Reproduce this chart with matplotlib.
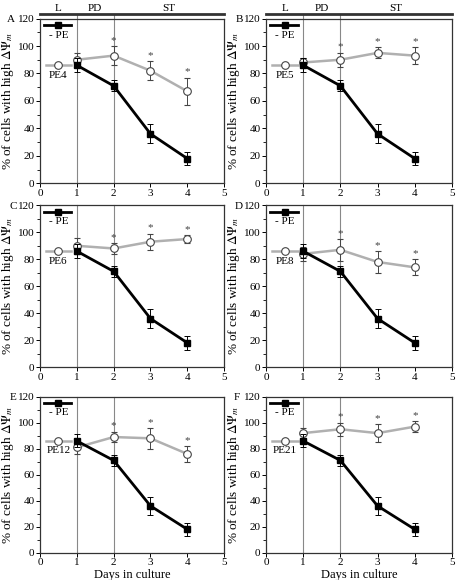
import numpy as np
import matplotlib
matplotlib.use('Agg')
import matplotlib.pyplot as plt

plt.rcParams['font.family'] = ['Liberation Serif', 'DejaVu Serif']
plt.rcParams['mathtext.fontset'] = 'stix'

days = [1, 2, 3, 4]
ctrl_mean = [86, 71, 36, 18]
ctrl_err = [5, 4, 7, 5]

panels = ['A', 'B', 'C', 'D', 'E', 'F']
strains = ['PE4', 'PE5', 'PE6', 'PE8', 'PE12', 'PE21']
pe_mean = [
    [90, 93, 82, 67],
    [88, 90, 95, 93],
    [90, 88, 93, 95],
    [84, 87, 78, 74],
    [81, 89, 88, 76],
    [92, 95, 92, 97],
]
pe_err = [
    [5, 7, 7, 10],
    [3, 5, 4, 6],
    [6, 4, 6, 3],
    [5, 8, 8, 6],
    [5, 4, 8, 6],
    [4, 5, 7, 4],
]
star_days = [2, 3, 4]
phases = ['L', 'PD', 'ST']
phase_edges = [0, 1, 2, 5]

# axes boxes in figure fraction [left, bottom, width, height]
boxes = [
    [0.0875, 0.684, 0.403, 0.284],
    [0.582, 0.684, 0.407, 0.284],
    [0.0875, 0.367, 0.403, 0.279],
    [0.582, 0.367, 0.407, 0.279],
    [0.0875, 0.047, 0.403, 0.269],
    [0.582, 0.047, 0.407, 0.269],
]
letter_x = [-0.18, -0.165, -0.165, -0.17, -0.165, -0.175]

fig = plt.figure(figsize=(4.57, 5.8), dpi=100)

for i in range(6):
    ax = fig.add_axes(boxes[i])
    ax.set_xlim(0, 5)
    ax.set_ylim(0, 120)
    ax.set_xticks(range(6))
    ax.set_yticks(range(0, 121, 20))
    ax.set_yticks(range(0, 121, 10), minor=True)
    ax.tick_params(labelsize=8, direction='out', length=3, width=0.7, pad=1)
    ax.tick_params(which='minor', length=2, width=0.6)
    for s in ax.spines.values():
        s.set_linewidth(0.9)
        s.set_color('#333333')

    top = 123 if i < 2 else 120
    for xv in [1, 2]:
        ax.plot([xv, xv], [0, top], color='#888888', lw=0.8, clip_on=False, zorder=1)

    # treated strain
    ax.errorbar(days, pe_mean[i], yerr=pe_err[i], color='#b0b0b0', lw=1.8,
                marker='o', ms=5.5, mfc='white', mec='#444444', mew=0.8,
                ecolor='#444444', elinewidth=0.7, capsize=2, capthick=0.7, zorder=3)
    # control
    ax.errorbar(days, ctrl_mean, yerr=ctrl_err, color='black', lw=2,
                marker='s', ms=5, mfc='black', mec='black',
                ecolor='black', elinewidth=0.7, capsize=2, capthick=0.7, zorder=4)
    for d in star_days:
        k = days.index(d)
        ax.text(d, pe_mean[i][k] + pe_err[i][k] + 1, '*', ha='center', va='bottom',
                fontsize=8, color='#444444')

    # in-plot legend
    ax.plot([0.1, 0.85], [115, 115], color='black', lw=2, clip_on=False)
    ax.plot([0.5], [115], marker='s', ms=5, color='black')
    ax.text(0.5, 111, '- PE', ha='center', va='top', fontsize=8)
    ax.plot([0.15, 0.85], [86, 86], color='#b0b0b0', lw=1.8, clip_on=False)
    ax.plot([0.5], [86], marker='o', ms=5.5, mfc='white', mec='#444444', mew=0.8)
    ax.text(0.5, 82, strains[i], ha='center', va='top', fontsize=8)

    ax.text(letter_x[i], 0.995, panels[i], transform=ax.transAxes, ha='left',
            va='center', fontsize=8)
    ax.set_ylabel('% of cells with high $\\Delta\\Psi_m$', fontsize=9.5, labelpad=1)
    if i >= 4:
        ax.set_xlabel('Days in culture', fontsize=9, labelpad=1)

    if i < 2:
        ax.plot([0, 5], [123, 123], color='#333333', lw=2, clip_on=False)
        for j, ph in enumerate(phases):
            ax.text((phase_edges[j] + phase_edges[j + 1]) / 2, 124, ph,
                    ha='center', va='bottom', fontsize=8)

fig.savefig('out.png', dpi=100)
